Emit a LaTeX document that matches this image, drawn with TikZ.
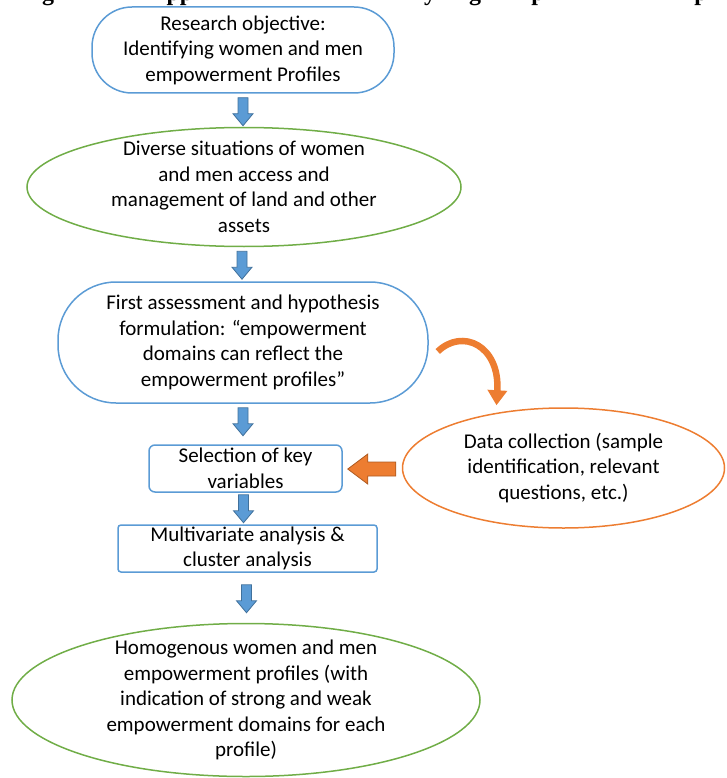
\documentclass[tikz,border=0pt]{standalone}
\usepackage{fontspec}
\setmainfont{Carlito}
\newfontfamily\titlefont{Liberation Serif}
\usetikzlibrary{shapes.geometric,arrows.meta,calc}
\definecolor{ablue}{HTML}{5B9BD5}
\definecolor{ablueedge}{HTML}{41719C}
\definecolor{agreen}{HTML}{70AD47}
\definecolor{aorange}{HTML}{ED7D31}
\definecolor{aorangeedge}{HTML}{AE5A21}
\tikzset{
  txt/.style={align=center, font=\fontsize{21}{25.5}\selectfont, inner sep=0pt},
  bluebox/.style={draw=ablue, line width=1.5pt, txt},
  greenell/.style={draw=agreen, line width=1.5pt, ellipse, inner sep=0pt},
  orangeell/.style={draw=aorange, line width=1.5pt, ellipse, inner sep=0pt},
  titlefrag/.style={anchor=base, inner sep=0pt, font=\titlefont\bfseries\fontsize{24}{28}\selectfont},
  downarr/.pic={\filldraw[fill=ablue, draw=ablueedge, line width=0.8pt]
     (-5,0) -- (5,0) -- (5,16) -- (10,16) -- (0,28) -- (-10,16) -- (-5,16) -- cycle;}
}
\begin{document}
\begin{tikzpicture}[x=1pt,y=-1pt]
\useasboundingbox (0,0) rectangle (726,778);

% clipped heading fragments
\begin{scope}
\clip (0,0) rectangle (726,14);
\node[titlefrag] (h1) at (48,1) {g};
\node[titlefrag] (h2) at (180,1) {pp};
\node[titlefrag] (h3) at (430,1) {y};
\node[titlefrag] (h4) at (475,1) {g};
\node[titlefrag] (h5) at (538,1) {p};
\node[titlefrag] (h6) at (701,1) {p};
\end{scope}

% boxes
\node[bluebox, rounded corners=40pt, minimum width=302pt, minimum height=86pt] (obj) at (243,50)
  {Research objective:\\Identifying women and men\\empowerment Profiles};

\node[greenell, minimum width=434pt, minimum height=119pt] (sit) at (244,187) {};
\node[txt] (sitt) at (sit.center) {Diverse situations of women\\and men access and\\management of land and other\\assets};

\node[bluebox, rounded corners=58pt, minimum width=370pt, minimum height=121pt] (hyp) at (243,342.5)
  {First assessment and hypothesis\\formulation: “empowerment\\domains can reflect the\\empowerment profiles”};

\node[bluebox, rounded corners=6pt, minimum width=193pt, minimum height=47pt] (sel) at (245.5,468.5)
  {Selection of key\\variables};

\node[bluebox, rounded corners=3pt, minimum width=259pt, minimum height=47pt] (mul) at (247.5,548.5)
  {Multivariate analysis \&\\cluster analysis};

\node[greenell, minimum width=468pt, minimum height=153pt] (prof) at (246,700) {};
\node[txt] (proft) at (prof.center) {Homogenous women and men\\empowerment profiles (with\\indication of strong and weak\\empowerment domains for each\\profile)};

\node[orangeell, minimum width=322pt, minimum height=120pt] (dat) at (563.5,468) {};
\node[txt] (datt) at (dat.center) {Data collection (sample\\identification, relevant\\questions, etc.)};

% blue block arrows
\pic at ($(obj.south)+(0,4)$) {downarr};
\pic at ($(sit.south)+(-2,4)$) {downarr};
\pic at ($(hyp.south)+(0,4)$) {downarr};
\pic at ($(sel.south)+(-2,2)$) {downarr};
\pic at ($(mul.south)+(-1,12)$) {downarr};

% orange block arrow from data collection to selection
\coordinate (tipL) at ($(sel.east)+(5,0.5)$);
\filldraw[fill=aorange, draw=aorangeedge, line width=0.8pt]
  (tipL) -- ++(20,-15) -- ++(0,8) -- ++(28,0) -- ++(0,14) -- ++(-28,0) -- ++(0,8) -- cycle;

% curved orange arrow from hypothesis to data collection
\coordinate (cs) at ($(hyp.east)+(9,9)$);
\coordinate (ce) at ($(dat.north)+(-67,-2)$);
\draw[aorange, line width=6.5pt, -{Triangle[length=15pt,width=19pt]}]
  (cs) .. controls (462,328) and (500,345) .. (ce);
\end{tikzpicture}
\end{document}
